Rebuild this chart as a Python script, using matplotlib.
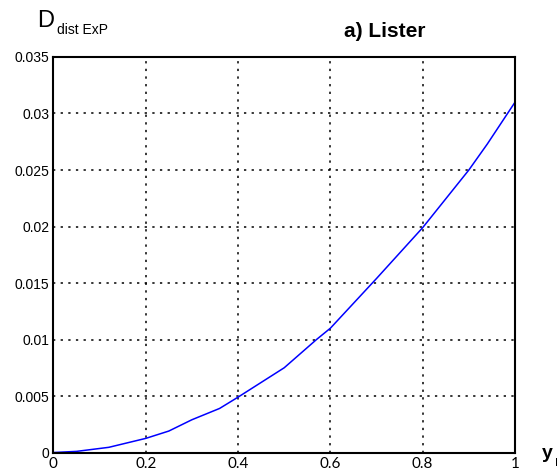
import numpy as np
import matplotlib
matplotlib.use('Agg')
from matplotlib import pyplot as plt

# values
y_r = [0, 0.05, 0.12, 0.2, 0.25, 0.3, 0.36, 0.4, 0.5, 0.57, 0.6, 0.7, 0.8, 0.9, 0.94, 1.0]
d_dist = [0, 0.0001, 0.00046, 0.00125, 0.0019, 0.0029, 0.0039, 0.0049, 0.0075,
          0.0100, 0.0110, 0.0154, 0.0199, 0.0250, 0.0273, 0.0310]

x_ticks = [0, 0.2, 0.4, 0.6, 0.8, 1]
x_labels = ['0', '0.2', '0.4', '0.6', '0.8', '1']
y_ticks = [0, 0.005, 0.01, 0.015, 0.02, 0.025, 0.03, 0.035]
y_labels = ['0', '0.005', '0.01', '0.015', '0.02', '0.025', '0.03', '0.035']

plt.rcParams['font.family'] = ['Liberation Sans', 'DejaVu Sans']

fig = plt.figure(figsize=(5.57, 4.73), dpi=100)
ax = fig.add_axes([0.0959, 0.0433, 0.8287, 0.8362])

ax.plot(y_r, d_dist, color='#0000ff', linewidth=1.1)

ax.set_xlim(0, 1)
ax.set_ylim(0, 0.035)
ax.set_xticks(x_ticks)
ax.set_xticklabels(x_labels, fontsize=11, family='Lato')
ax.set_yticks(y_ticks)
ax.set_yticklabels(y_labels, fontsize=10)
ax.tick_params(direction='in', length=0, pad=3)
ax.tick_params(axis='x', pad=3)

ax.grid(True, color='black', linestyle=(0, (1.5, 3.5)), linewidth=1.1)
for s in ax.spines.values():
    s.set_linewidth(1.5)

fig.text(0.066, 0.943, 'D', fontsize=17)
fig.text(0.102, 0.928, 'dist ExP', fontsize=10)
fig.text(0.691, 0.922, 'a) Lister', fontsize=15, fontweight='bold', ha='center')
fig.text(0.972, 0.032, 'y', fontsize=14, fontweight='bold')
fig.text(0.997, 0.015, 'r', fontsize=10, fontweight='bold')

fig.savefig('out.png', dpi=100)
